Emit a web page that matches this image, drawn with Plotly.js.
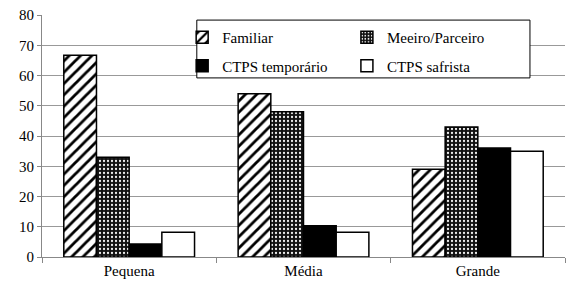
<!DOCTYPE html>
<html><head><meta charset="utf-8">
<script src="https://cdn.plot.ly/plotly-3.0.1.min.js"></script>
<style>html,body{margin:0;padding:0;background:#fff}#chart{width:569px;height:288px}</style>
</head><body><div id="chart"></div>
<script>
const categories = ["Pequena", "Média", "Grande"];
const familiar = [66.7, 54, 29];
const meeiro = [33, 48, 43];
const temporario = [4.3, 10.3, 36];
const safrista = [8.2, 8.2, 35];
const seriesNames = ["Familiar", "Meeiro/Parceiro", "CTPS temporário", "CTPS safrista"];
const yTicks = [0, 10, 20, 30, 40, 50, 60, 70, 80];

const fam = "Liberation Serif, Times New Roman, DejaVu Serif, serif";
const line = {color: "#000", width: 1.5};
const traces = [
  {type: "bar", name: seriesNames[0], x: categories, y: familiar, legend: "legend", legendgroup: "a",
   marker: {color: "#fff", line: line, pattern: {shape: "/", fgcolor: "#000", bgcolor: "#fff", size: 8, solidity: 0.35}}},
  {type: "bar", name: seriesNames[1], x: categories, y: meeiro, legend: "legend2", legendgroup: "b",
   marker: {color: "#111", line: line, pattern: {shape: ".", fgcolor: "#eee", bgcolor: "#111", size: 4, solidity: 0.25}}},
  {type: "bar", name: seriesNames[2], x: categories, y: temporario, legend: "legend", legendgroup: "c",
   marker: {color: "#000", line: line}},
  {type: "bar", name: seriesNames[3], x: categories, y: safrista, legend: "legend2", legendgroup: "d",
   marker: {color: "#fff", line: line}}
];

const font = {family: fam, size: 15, color: "#000"};
const legendBase = {orientation: "v", xanchor: "left", y: 0.975, yanchor: "top",
  bgcolor: "rgba(0,0,0,0)", borderwidth: 0, traceorder: "grouped", tracegroupgap: 6,
  font: {family: fam, size: 15, color: "#000"}};
const layout = {
  width: 569, height: 288,
  margin: {l: 42, r: 4, t: 15, b: 31},
  paper_bgcolor: "#fff", plot_bgcolor: "#fff",
  font: font,
  barmode: "group", bargap: 0.25, bargroupgap: 0,
  showlegend: true,
  legend: Object.assign({}, legendBase, {x: 0.268}),
  legend2: Object.assign({}, legendBase, {x: 0.583}),
  shapes: [{type: "rect", xref: "paper", yref: "paper", x0: 0.296, x1: 0.933, y0: 0.74, y1: 0.979,
            fillcolor: "#fff", line: {color: "#000", width: 1}, layer: "above"}],
  xaxis: {type: "category", tickson: "boundaries", ticks: "outside", ticklen: 5,
          tickcolor: "#888", showline: true, linecolor: "#888", linewidth: 1,
          showgrid: false, tickfont: font, fixedrange: true},
  yaxis: {range: [0, 80], tickvals: yTicks, ticktext: yTicks.map(String),
          ticks: "outside", ticklen: 4, tickcolor: "#888",
          showline: true, linecolor: "#888", linewidth: 1,
          showgrid: true, gridcolor: "#999", gridwidth: 1, zeroline: false,
          tickfont: font, fixedrange: true}
};
Plotly.newPlot("chart", traces, layout, {staticPlot: true, displayModeBar: false});
</script>
</body></html>
